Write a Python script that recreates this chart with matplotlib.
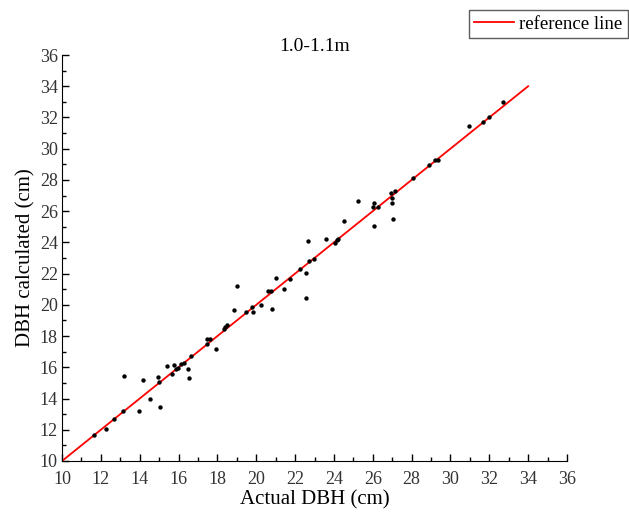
import matplotlib
matplotlib.use("Agg")
import matplotlib.pyplot as plt
from matplotlib.ticker import MultipleLocator

actual_dbh = [11.66, 12.25, 12.66, 13.13, 13.18, 13.95, 14.15, 14.53, 14.94, 14.98,
              15.06, 15.42, 15.65, 15.75, 15.85, 15.96, 16.13, 16.27, 16.49, 16.54,
              16.63, 17.47, 17.62, 17.47, 17.93, 18.33, 18.50, 18.39, 18.84, 18.99,
              19.46, 19.77, 19.85, 20.23, 20.61, 20.78, 20.80, 21.03, 21.45, 21.74,
              22.24, 22.56, 22.58, 22.73, 22.68, 22.99, 23.59, 24.04, 24.14, 24.19,
              24.53, 25.22, 26.00, 26.05, 26.08, 26.27, 26.94, 26.99, 26.97, 27.04,
              27.14, 28.09, 28.90, 29.20, 29.37, 30.94, 31.68, 31.98, 32.72]
calc_dbh = [11.67, 12.05, 12.71, 13.22, 15.42, 13.18, 15.21, 13.99, 15.38, 15.04,
            13.48, 16.08, 15.59, 16.15, 15.89, 15.94, 16.21, 16.28, 15.87, 15.30,
            16.70, 17.81, 17.81, 17.47, 17.19, 18.43, 18.69, 18.56, 19.67, 21.23,
            19.56, 19.86, 19.52, 19.99, 20.91, 20.91, 19.73, 21.70, 21.03, 21.66,
            22.30, 20.46, 22.06, 22.81, 24.09, 22.92, 24.24, 23.96, 24.17, 24.24,
            25.37, 26.65, 26.25, 26.52, 25.07, 26.29, 27.18, 26.82, 26.54, 25.52,
            27.29, 28.14, 28.96, 29.26, 29.26, 31.47, 31.71, 32.05, 32.99]
ref_line = [10, 34]

title = "1.0-1.1m"
xlabel = "Actual DBH (cm)"
ylabel = "DBH calculated (cm)"
legend_label = "reference line"

plt.rcParams['font.family'] = ['Liberation Serif', 'DejaVu Serif']

fig = plt.figure(figsize=(6.29, 5.15), dpi=100)
ax = fig.add_axes([0.0986, 0.1049, 0.8028, 0.7883])

line, = ax.plot(ref_line, ref_line, color='#ff0000', lw=1.3, label=legend_label, zorder=2)
ax.scatter(actual_dbh, calc_dbh, s=10, color='black', zorder=3, linewidths=0)

ax.set_xlim(10, 36)
ax.set_ylim(10, 36)
ax.xaxis.set_major_locator(MultipleLocator(2))
ax.yaxis.set_major_locator(MultipleLocator(2))
ax.xaxis.set_minor_locator(MultipleLocator(1))
ax.yaxis.set_minor_locator(MultipleLocator(1))
ax.tick_params(which='major', direction='in', length=5, width=1, labelsize=13,
               labelcolor='#333333')
ax.tick_params(which='minor', direction='in', length=3, width=1)
ax.tick_params(axis='x', which='major', pad=7)
ax.tick_params(axis='y', which='major', pad=3)
ax.spines['top'].set_visible(False)
ax.spines['right'].set_visible(False)

ax.set_title(title, fontsize=14, pad=0)
ax.set_xlabel(xlabel, fontsize=15, labelpad=2)
ax.set_ylabel(ylabel, fontsize=15, labelpad=3)

leg = fig.legend(handles=[line], loc='upper right', bbox_to_anchor=(0.9985, 0.981),
                 fontsize=13.5, frameon=True, fancybox=False, handlelength=2.1,
                 borderpad=0.3, handletextpad=0.3, borderaxespad=0)
leg.get_frame().set_edgecolor('#333333')
leg.get_frame().set_linewidth(1.0)

fig.savefig("out.png", dpi=100)
